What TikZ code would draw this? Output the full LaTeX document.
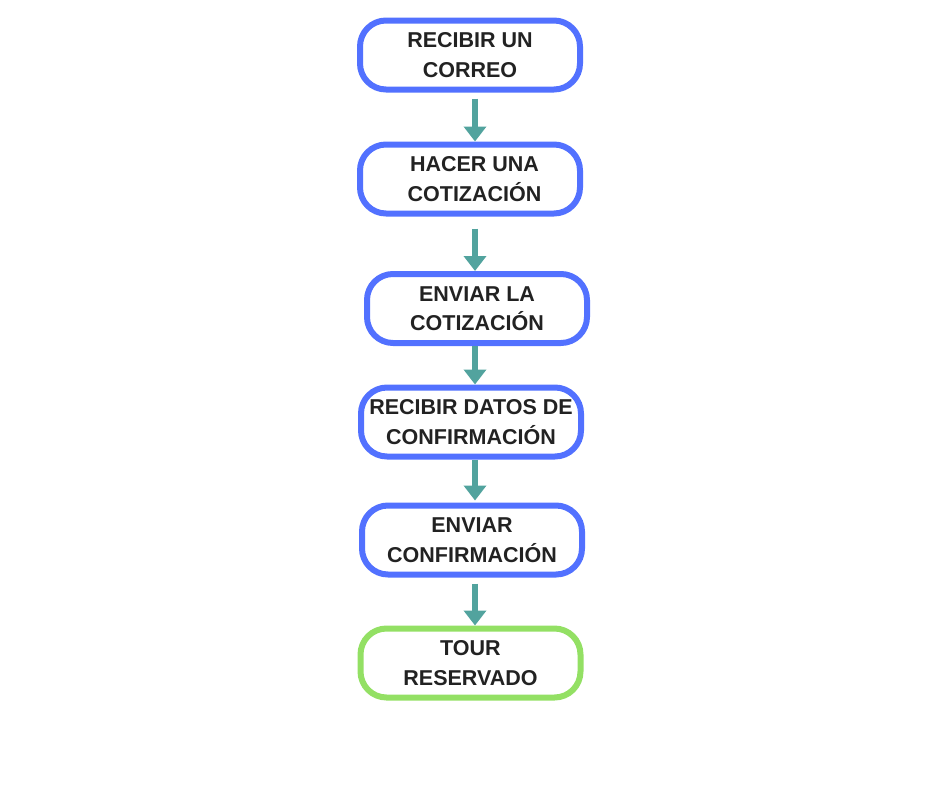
\documentclass[tikz,border=0pt]{standalone}
\usepackage{fontspec}
\setmainfont{Liberation Sans}
\usetikzlibrary{arrows.meta}
\definecolor{boxblue}{HTML}{5271FF}
\definecolor{boxgreen}{HTML}{93E064}
\definecolor{arrteal}{HTML}{52A39E}
\definecolor{txt}{HTML}{222222}
\begin{document}
\begin{tikzpicture}[x=1pt,y=-1pt,
  stepbox/.style={draw=boxblue,line width=6pt,rounded corners=26pt,
    minimum width=220pt,minimum height=69pt,inner sep=0pt,align=center,
    text=txt,font=\fontsize{21.5}{29.5}\selectfont\bfseries},
  endbox/.style={stepbox,draw=boxgreen},
  arr/.style={draw=arrteal,line width=6pt,-{Triangle[width=22pt,length=15pt]},arrteal}]
\useasboundingbox (0,0) rectangle (940,788);
\coordinate (ax) at (475,0);
\node[stepbox] (b1) at (470,55) {RECIBIR UN\\CORREO};
\node[stepbox] (b2) at (470,179) {\hspace*{9pt}HACER UNA\\\hspace*{9pt}COTIZACIÓN};
\node[stepbox] (b3) at (477,308.5) {ENVIAR LA\\COTIZACIÓN};
\node[stepbox] (b4) at (471,422) {RECIBIR DATOS DE\\CONFIRMACIÓN};
\node[stepbox] (b5) at (472,540) {ENVIAR\\CONFIRMACIÓN};
\node[endbox] (b6) at (470.5,663) {TOUR\\RESERVADO};
\draw[arr,shorten <=6pt] (b1.south -| ax) -- (b2.north -| ax);
\draw[arr,shorten <=12pt] (b2.south -| ax) -- (b3.north -| ax);
\draw[arr] (b3.south -| ax) -- (b4.north -| ax);
\draw[arr,shorten >=2pt] (b4.south -| ax) -- (b5.north -| ax);
\draw[arr,shorten <=6pt] (b5.south -| ax) -- (b6.north -| ax);
\end{tikzpicture}
\end{document}
